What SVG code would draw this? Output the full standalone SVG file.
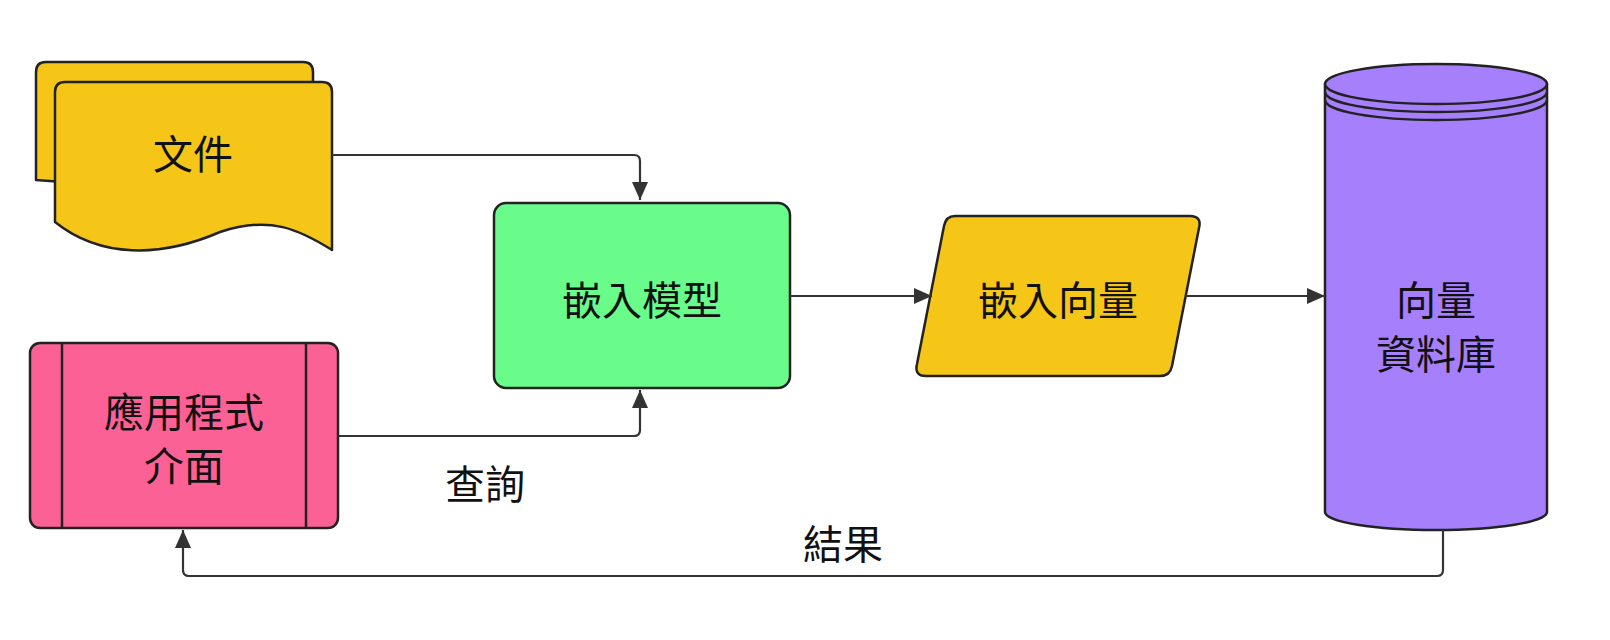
<svg xmlns="http://www.w3.org/2000/svg" width="1610" height="640" viewBox="0 0 1610 640">
<style>
.s{stroke:#222;stroke-width:2.5;stroke-linejoin:round}
.t{font-family:"Noto Sans CJK TC","Noto Sans CJK SC",sans-serif;font-size:40px;fill:#111;text-anchor:middle;dominant-baseline:central}
.c{fill:none;stroke:#333;stroke-width:2.2}
</style>
<defs><marker id="a" markerWidth="10" markerHeight="10" refX="9" refY="5" orient="auto" markerUnits="userSpaceOnUse"><path d="M0,0 L10,5 L0,10 z" fill="#333"/></marker>
<marker id="b" markerWidth="20" markerHeight="20" refX="18" refY="10" orient="auto" markerUnits="userSpaceOnUse"><path d="M0,2 L18,10 L0,18 z" fill="#333"/></marker></defs>
<rect width="1610" height="640" fill="#fff"/>
<g id="doc">
<path class="s" fill="#f5c518" d="M46,62 H303 Q313,62 313,72 V200 L36,180 V72 Q36,62 46,62 Z"/>
<path class="s" fill="#f5c518" d="M65,82 H322 Q332,82 332,92 V250 C300,230 270,215 220,232 C160,258 100,258 55,222 V92 Q55,82 65,82 Z"/>
<text class="t" x="193" y="152">文件</text>
</g>
<g id="model"><rect class="s" fill="#69fc8a" x="494" y="203" width="296" height="185" rx="12"/><text class="t" x="642" y="298">嵌入模型</text></g>
<g id="vec"><path class="s" fill="#f5c518" d="M955,216 H1190 Q1202,216 1199,228 L1172,366 Q1170,376 1160,376 H926 Q914,376 917,364 L944,226 Q946,216 955,216 Z"/><text class="t" x="1058" y="298">嵌入向量</text></g>
<g id="db">
<path class="s" fill="#a57ffc" d="M1325,84 V512 A111,18 0 0 0 1547,512 V84 Z"/>
<ellipse class="s" fill="#a57ffc" cx="1436" cy="84" rx="111" ry="20"/>
<path class="s" fill="none" d="M1325,92 A111,20 0 0 0 1547,92 M1325,100 A111,20 0 0 0 1547,100"/>
<text class="t" x="1436" y="298">向量</text><text class="t" x="1436" y="352">資料庫</text>
</g>
<g id="app"><rect class="s" fill="#fc6196" x="30" y="343" width="308" height="185" rx="10"/><path class="s" d="M62,343 V528 M306,343 V528"/><text class="t" x="184" y="410">應用程式</text><text class="t" x="184" y="464">介面</text></g>
<g id="conn">
<path class="c" d="M332,155 H634 Q640,155 640,161 V200" marker-end="url(#b)"/>
<path class="c" d="M338,436 H634 Q640,436 640,430 V390" marker-end="url(#b)"/>
<path class="c" d="M790,296 H932" marker-end="url(#b)"/>
<path class="c" d="M1185,296 H1325" marker-end="url(#b)"/>
<path class="c" d="M1443,530 V570 Q1443,576 1437,576 H189 Q183,576 183,570 V530" marker-end="url(#b)"/>
<text class="t" x="485" y="482">查詢</text>
<text class="t" x="843" y="542">結果</text>
</g>
</svg>
